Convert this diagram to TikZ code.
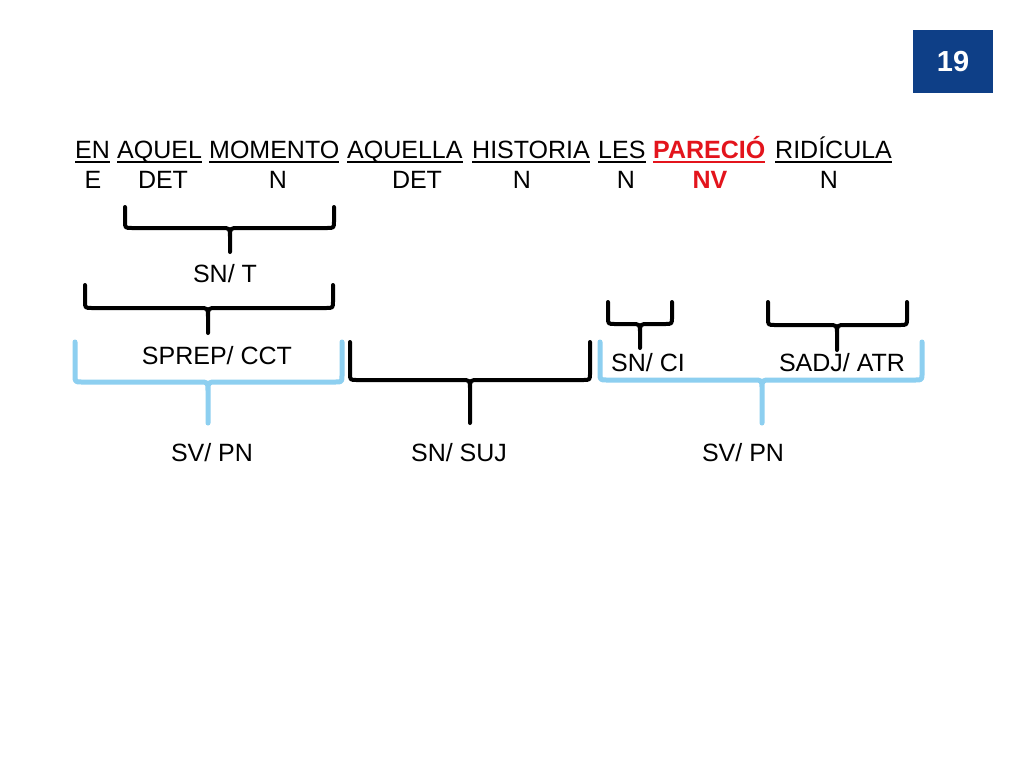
\documentclass[tikz,border=0pt]{standalone}
\usepackage{fontspec}
\setmainfont{Liberation Sans}
\definecolor{boxblue}{HTML}{0E3F87}
\definecolor{lightblue}{HTML}{8DCFF0}
\definecolor{wordred}{HTML}{E3141C}
\newcommand\brc[7]{%
  \draw[#1] (#2,#5) -- (#2,#6-7) .. controls (#2,#6) .. (#2+7,#6)
    -- (#4-9,#6) .. controls (#4,#6) .. (#4,#6+9) -- (#4,#7)
    (#4,#6+9) .. controls (#4,#6) .. (#4+9,#6)
    -- (#3-7,#6) .. controls (#3,#6) .. (#3,#6-7) -- (#3,#5);}
\begin{document}
\begin{tikzpicture}[x=1pt,y=-1pt,
  txt/.style={inner sep=0pt, anchor=base, font=\fontsize{25}{30}\selectfont},
  word/.style={txt, anchor=base west},
  uline/.style={line width=1.5pt},
  blackbrace/.style={line width=4pt, black, line cap=round, line join=round},
  bluebrace/.style={line width=5pt, lightblue, line cap=round, line join=round}]
\useasboundingbox (0,0) rectangle (1024,768);
\fill[white] (0,0) rectangle (1024,768);

% page number box
\node[fill=boxblue, minimum width=80pt, minimum height=63pt, inner sep=0pt,
  text=white, font=\fontsize{29}{32}\selectfont\bfseries] (num) at (953,61.5) {19};

% sentence words
\node[word] (w1) at (75,158) {EN};
\node[word] (w2) at (117,158) {AQUEL};
\node[word] (w3) at (209,158) {MOMENTO};
\node[word] (w4) at (347,158) {AQUELLA};
\node[word] (w5) at (472,158) {HISTORIA};
\node[word] (w6) at (598,158) {LES};
\node[word, text=wordred, font=\fontsize{25}{30}\selectfont\bfseries] (w7) at (653,158) {PARECIÓ};
\node[word] (w8) at (775,158) {RIDÍCULA};
\foreach \w in {w1,w2,w3,w4,w5,w6,w8}
  \draw[uline] ([yshift=-4pt]\w.base west) -- ([yshift=-4pt]\w.base east);
\draw[uline, wordred] ([yshift=-4pt]w7.base west) -- ([yshift=-4pt]w7.base east);

% word categories
\node[txt] (c1) at (93,188) {E};
\node[txt] (c2) at (163,188) {DET};
\node[txt] (c3) at (278,188) {N};
\node[txt] (c4) at (417,188) {DET};
\node[txt] (c5) at (522,188) {N};
\node[txt] (c6) at (626,188) {N};
\node[txt, text=wordred, font=\fontsize{25}{30}\selectfont\bfseries] (c7) at (710,188) {NV};
\node[txt] (c8) at (829,188) {N};

% braces
\brc{blackbrace}{125}{334}{230}{207}{228}{252}
\brc{blackbrace}{85}{333}{208}{285}{308}{333}
\brc{bluebrace}{75}{342}{208}{342}{382}{423}
\brc{blackbrace}{350}{590}{470}{342}{380}{423}
\brc{bluebrace}{600}{922}{762}{342}{380}{423}
\brc{blackbrace}{608}{672}{640}{302}{324}{348}
\brc{blackbrace}{768}{907}{837}{302}{325}{350}

% function labels
\node[txt] (snt) at (225,282) {SN/ T};
\node[txt] (sprep) at (217,364) {SPREP/ CCT};
\node[txt] (snci) at (648,371) {SN/ CI};
\node[txt] (sadj) at (842,371) {SADJ/ ATR};
\node[txt] (sv1) at (212,461) {SV/ PN};
\node[txt] (snsuj) at (459,461) {SN/ SUJ};
\node[txt] (sv2) at (743,461) {SV/ PN};
\end{tikzpicture}
\end{document}
